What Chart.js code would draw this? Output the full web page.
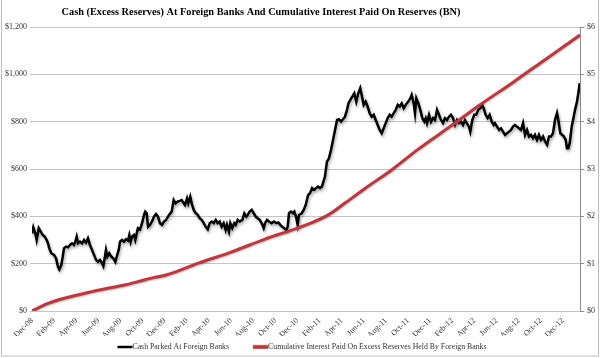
<!DOCTYPE html>
<html>
<head>
<meta charset="utf-8">
<script src="https://cdn.jsdelivr.net/npm/chart.js@4.4.1/dist/chart.umd.min.js"></script>
<style>
html,body{margin:0;padding:0;background:#fff;}
#wrap{position:relative;width:600px;height:358px;}
</style>
</head>
<body>
<div id="wrap"><canvas id="c" width="600" height="358"></canvas></div>
<script>
// Tick labels (every 2 months), x measured in months since Dec-08
const tickLabels = ['Dec-08','Feb-09','Apr-09','Jun-09','Aug-09','Oct-09','Dec-09','Feb-10','Apr-10','Jun-10','Aug-10','Oct-10','Dec-10','Feb-11','Apr-11','Jun-11','Aug-11','Oct-11','Dec-11','Feb-12','Apr-12','Jun-12','Aug-12','Oct-12','Dec-12'];

// Cash parked at foreign banks ($BN), time in months since Dec-08
const cashMonths = [0,0.12,0.30,0.42,0.61,0.79,0.97,1.15,1.33,1.45,1.56,1.74,1.99,2.17,2.35,2.47,2.65,2.78,2.89,3.07,3.26,3.44,3.62,3.80,3.92,4.04,4.16,4.34,4.52,4.70,4.88,5.06,5.24,5.43,5.61,5.79,5.97,6.15,6.33,6.45,6.57,6.69,6.81,6.99,7.17,7.35,7.53,7.71,7.84,7.96,8.14,8.32,8.50,8.68,8.80,8.92,9.04,9.22,9.34,9.47,9.58,9.77,9.95,10.13,10.24,10.37,10.49,10.67,10.85,11.03,11.21,11.39,11.57,11.75,11.94,12.12,12.39,12.63,12.81,12.99,13.17,13.36,13.54,13.72,13.83,14.02,14.13,14.31,14.44,14.62,14.80,14.98,15.16,15.34,15.53,15.71,15.89,16.07,16.25,16.43,16.61,16.79,16.97,17.15,17.33,17.51,17.63,17.81,17.93,18.11,18.29,18.42,18.60,18.78,19.02,19.20,19.38,19.50,19.68,19.87,20.05,20.23,20.41,20.59,20.77,20.95,21.07,21.25,21.43,21.67,21.88,22.09,22.27,22.45,22.63,22.81,22.99,23.12,23.24,23.42,23.60,23.72,23.87,24.02,24.14,24.39,24.57,24.75,24.96,25.14,25.32,25.50,25.68,25.86,26.04,26.22,26.31,26.49,26.67,26.85,27.04,27.22,27.40,27.58,27.76,27.94,28.12,28.30,28.48,28.62,28.78,28.96,29.14,29.32,29.50,29.68,29.81,29.99,30.17,30.35,30.53,30.72,30.90,31.08,31.26,31.44,31.62,31.80,31.98,32.16,32.34,32.52,32.71,32.89,33.07,33.25,33.43,33.61,33.79,34.02,34.21,34.33,34.51,34.63,34.75,34.93,35.11,35.29,35.47,35.60,35.72,35.90,36.08,36.26,36.44,36.62,36.80,36.98,37.16,37.34,37.52,37.70,37.88,38.07,38.25,38.43,38.61,38.79,38.97,39.15,39.33,39.51,39.63,39.81,39.99,40.17,40.35,40.54,40.72,40.84,41.02,41.20,41.38,41.57,41.75,41.86,42.05,42.23,42.41,42.59,42.77,42.95,43.13,43.31,43.49,43.67,43.85,44.03,44.22,44.40,44.58,44.76,44.94,45.12,45.30,45.48,45.66,45.84,46.02,46.21,46.39,46.57,46.75,46.93,47.11,47.29,47.47,47.59,47.77,47.95,48.10,48.26,48.37,48.49,48.62,48.80,48.98,49.10,49.28,49.40,49.52];
const cashValues = [328,354,328,300,350,335,321,314,300,286,265,244,237,223,187,176,194,230,265,272,269,279,286,279,293,314,286,293,286,300,289,307,279,258,237,216,208,216,202,190,223,258,230,244,230,223,208,237,258,293,300,293,303,297,321,293,314,321,300,328,350,345,371,406,420,413,356,364,378,399,410,399,371,364,378,385,406,420,469,455,462,465,469,455,448,476,455,483,455,427,413,406,392,385,371,356,345,371,378,371,385,371,378,356,371,342,364,335,371,350,371,364,385,378,385,413,399,406,420,427,413,399,392,385,371,350,371,385,378,371,378,371,374,364,356,350,342,356,413,420,413,420,399,364,406,413,427,448,490,498,519,512,519,526,519,526,540,568,631,645,681,723,765,807,810,800,810,821,850,878,892,906,920,885,920,942,913,871,885,864,836,821,829,807,786,765,751,772,794,815,829,821,836,850,871,864,878,857,871,885,899,913,878,836,899,878,850,815,800,815,794,829,800,815,807,850,829,807,794,815,807,821,829,815,786,807,794,800,786,807,793,779,758,807,829,829,850,857,871,857,829,815,829,800,786,793,779,765,772,758,744,751,758,765,779,786,779,772,765,794,744,765,737,744,730,744,723,744,723,737,716,702,737,737,751,807,836,807,751,744,737,723,688,688,709,779,821,850,885,920,963];

// Cumulative interest paid on excess reserves held by foreign banks ($BN)
const interestMonths = [0,1.45,3.26,5.06,6.87,8.38,9.58,11.09,12.12,15.04,18.06,21.07,23.48,25.14,26.79,28.30,30.11,32.52,34.93,38.25,40.35,43.55,46.39,49.55];
const interestValues = [0,0.16,0.29,0.39,0.48,0.55,0.62,0.71,0.76,1.01,1.25,1.52,1.71,1.85,2.03,2.28,2.59,2.98,3.42,3.97,4.33,4.84,5.31,5.83];

const TITLE = 'Cash (Excess Reserves) At Foreign Banks And Cumulative Interest Paid On Reserves (BN)';
const SERIF = "'Liberation Serif','Times New Roman',serif";
const GRID = '#c4c4c4';
const TXT = '#333333';

const shadowPlugin = {
  id: 'shadow',
  beforeDatasetDraw(chart, args) {
    const ctx = chart.ctx;
    ctx.save();
    if (args.index === 0) {
      ctx.shadowColor = 'rgba(0,0,0,0.35)';
      ctx.shadowBlur = 3; ctx.shadowOffsetX = 1; ctx.shadowOffsetY = 2;
    } else {
      ctx.shadowColor = 'rgba(170,60,65,0.5)';
      ctx.shadowBlur = 2; ctx.shadowOffsetX = 0; ctx.shadowOffsetY = 1;
    }
  },
  afterDatasetDraw(chart) { chart.ctx.restore(); }
};

// Frame, title and legend (legend built from the datasets)
const framePlugin = {
  id: 'frame',
  beforeDraw(chart) {
    const ctx = chart.ctx;
    ctx.save();
    ctx.fillStyle = '#fff';
    ctx.fillRect(0, 0, chart.width, chart.height);
    ctx.restore();
  },
  afterDraw(chart) {
    const ctx = chart.ctx;
    ctx.save();
    ctx.strokeStyle = '#bdbdbd';
    ctx.lineWidth = 1;
    ctx.strokeRect(1.5, -2, 597, 358);
    ctx.fillStyle = '#000';
    ctx.font = 'bold 10.3px ' + SERIF;
    ctx.textAlign = 'center';
    ctx.textBaseline = 'middle';
    ctx.fillText(TITLE, 261, 12);

    // legend
    const ds = chart.data.datasets;
    ctx.font = '7.8px ' + SERIF;
    const sample = 15, gap = 24;
    const widths = ds.map(d => sample + ctx.measureText(d.label).width);
    const total = widths.reduce((a, b) => a + b, 0) + gap * (ds.length - 1);
    let x = 302 - total / 2;
    const y = 347;
    ds.forEach((d, i) => {
      ctx.save();
      ctx.strokeStyle = d.borderColor;
      ctx.lineWidth = i === 0 ? 2.5 : 3.5;
      if (i === 1) { ctx.shadowColor = 'rgba(170,60,65,0.5)'; ctx.shadowBlur = 2; }
      ctx.beginPath();
      ctx.moveTo(x, y);
      ctx.lineTo(x + sample, y);
      ctx.stroke();
      ctx.restore();
      ctx.fillStyle = TXT;
      ctx.textAlign = 'left';
      ctx.textBaseline = 'middle';
      ctx.fillText(d.label, x + sample, y);
      x += widths[i] + gap;
    });
    ctx.restore();
  }
};

new Chart(document.getElementById('c'), {
  type: 'line',
  data: {
    datasets: [
      {
        label: 'Cash Parked At Foreign Banks',
        data: cashMonths.map((m, i) => ({ x: m, y: cashValues[i] })),
        borderColor: '#000',
        backgroundColor: '#000',
        borderWidth: 2.5,
        pointRadius: 0,
        tension: 0,
        yAxisID: 'y',
        order: 2
      },
      {
        label: 'Cumulative Interest Paid On Excess Reserves Held By Foreign Banks',
        data: interestMonths.map((m, i) => ({ x: m, y: interestValues[i] })),
        borderColor: '#b23c41',
        backgroundColor: '#b23c41',
        borderWidth: 3,
        pointRadius: 0,
        cubicInterpolationMode: 'monotone',
        yAxisID: 'y2',
        order: 1
      }
    ]
  },
  options: {
    responsive: false,
    devicePixelRatio: 1,
    animation: false,
    layout: { padding: { top: 27, left: 0, right: 0, bottom: 22 } },
    plugins: {
      title: { display: false },
      tooltip: { enabled: false },
      legend: { display: false }
    },
    scales: {
      x: {
        type: 'linear',
        min: 0,
        max: 49.55,
        afterBuildTicks: (s) => { s.ticks = tickLabels.map((_, i) => ({ value: i * 2 })); },
        afterFit: (s) => { s.height = 25; },
        grid: { display: false, drawTicks: false },
        border: { display: false },
        ticks: {
          autoSkip: false,
          minRotation: 45,
          maxRotation: 45,
          padding: 5,
          color: TXT,
          font: { family: SERIF, size: 8 },
          callback: (v) => tickLabels[Math.round(v / 2)]
        }
      },
      y: {
        position: 'left',
        min: 0,
        max: 1200,
        afterFit: (s) => { s.width = 32; },
        grid: { color: GRID, lineWidth: 1, drawTicks: true, tickLength: 2 },
        border: { display: false },
        ticks: {
          stepSize: 200,
          padding: 3,
          color: TXT,
          font: { family: SERIF, size: 8 },
          callback: (v) => '$' + v.toLocaleString('en-US')
        }
      },
      y2: {
        position: 'right',
        min: 0,
        max: 6,
        afterFit: (s) => { s.width = 20; },
        grid: { drawOnChartArea: false, color: '#8c8c8c', tickLength: 4 },
        border: { display: true, color: '#8c8c8c' },
        ticks: {
          stepSize: 1,
          padding: 3,
          color: TXT,
          font: { family: SERIF, size: 8 },
          callback: (v) => '$' + v
        }
      }
    }
  },
  plugins: [shadowPlugin, framePlugin]
});
</script>
</body>
</html>
